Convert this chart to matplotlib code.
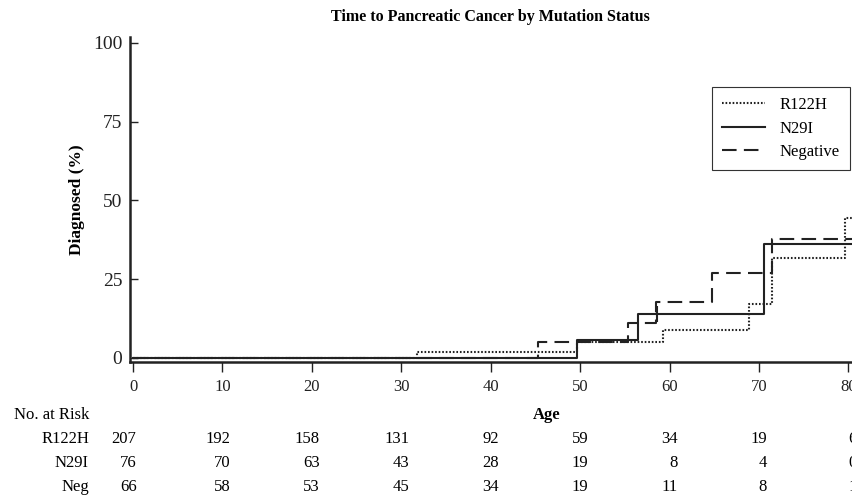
import matplotlib
matplotlib.use("Agg")
import matplotlib.pyplot as plt
import matplotlib.transforms as mtransforms

plt.rcParams['font.family'] = ['Liberation Serif', 'DejaVu Serif']

# step curves (age, cumulative % diagnosed)
r122h_age = [0, 31.7, 49.7, 59.3, 68.9, 71.4, 79.6, 80.4]
r122h_pct = [0, 2.0, 5.0, 8.9, 17.1, 31.8, 44.4, 44.4]
n29i_age = [0, 49.6, 56.5, 70.6, 80.4]
n29i_pct = [0, 5.7, 13.9, 36.1, 36.1]
neg_age = [0, 45.3, 55.3, 58.5, 64.7, 71.5, 80.4]
neg_pct = [0, 4.9, 11.2, 17.9, 26.9, 37.6, 37.6]
n29i_censor_age = [58.6]
n29i_censor_pct = [13.9]

# numbers at risk
risk_ages = [0, 10, 20, 30, 40, 50, 60, 70, 80]
risk_rows = ['R122H', 'N29I', 'Neg']
risk_r122h = [207, 192, 158, 131, 92, 59, 34, 19, 6]
risk_n29i = [76, 70, 63, 43, 28, 19, 8, 4, 0]
risk_neg = [66, 58, 53, 45, 34, 19, 11, 8, 1]

W, H = 852, 499
fig = plt.figure(figsize=(W / 100, H / 100), dpi=100)
ax = fig.add_axes([130 / W, 1 - 362 / H, 1 - 130 / W, (362 - 37) / H])

lw = 1.5
ax.step(r122h_age, r122h_pct, where='post', color='#222222', lw=lw,
        linestyle=(0, (0.8, 0.9)), label='R122H')
ax.step(n29i_age, n29i_pct, where='post', color='#222222', lw=lw,
        linestyle='-', label='N29I')
ax.step(neg_age, neg_pct, where='post', color='#222222', lw=lw,
        linestyle=(0, (7, 3.5)), label='Negative')
ax.plot(n29i_censor_age, n29i_censor_pct, marker='|', markersize=11,
        color='#222222', mew=1.5, linestyle='none')

ax.set_xlim(-0.34, 80.4)
ax.set_ylim(-1.3, 101.9)
ax.set_xticks(risk_ages)
ax.set_yticks([0, 25, 50, 75, 100])

for s in ['top', 'right']:
    ax.spines[s].set_visible(False)
for s in ['left', 'bottom']:
    ax.spines[s].set_linewidth(1.8)
    ax.spines[s].set_color('#222222')

ax.tick_params(axis='y', direction='in', length=6, width=1.0, labelsize=14,
               pad=5.5, colors='#222222')
ax.tick_params(axis='x', direction='out', length=7, width=1.0, labelsize=12,
               pad=5, colors='#222222')

ax.set_ylabel('Diagnosed (%)', fontsize=12.5, fontweight='bold', labelpad=6)

fig.text(490 / W, 1 - 17 / H, 'Time to Pancreatic Cancer by Mutation Status',
         ha='center', va='center', fontsize=11.5, fontweight='bold')

leg = ax.legend(loc='upper right', bbox_to_anchor=(850 / W, 1 - 87 / H),
                bbox_transform=fig.transFigure, fontsize=12, frameon=True,
                fancybox=False, framealpha=1, edgecolor='#333333',
                handlelength=2.6, handletextpad=0.9, labelspacing=0.45,
                borderpad=0.6, borderaxespad=0)
leg.get_frame().set_linewidth(0.8)

# at-risk table
ty = lambda y: 1 - y / H
trans = mtransforms.blended_transform_factory(ax.transData, fig.transFigure)

fig.text(89 / W, ty(415), 'No. at Risk', ha='right', va='center', fontsize=12)
ax.text(46.3, ty(415), 'Age', transform=trans, ha='center', va='center',
        fontsize=12, fontweight='bold', clip_on=False)

row_y = [439, 463, 487]
for name, counts, y in zip(risk_rows, [risk_r122h, risk_n29i, risk_neg], row_y):
    fig.text(89 / W, ty(y), name, ha='right', va='center', fontsize=12)
    for a, c in zip(risk_ages, counts):
        off = 0.4 if a == 0 else 0.9
        ax.text(a + off, ty(y), str(c), transform=trans, ha='right',
                va='center', fontsize=12, clip_on=False)

fig.savefig('out.png', dpi=100)
